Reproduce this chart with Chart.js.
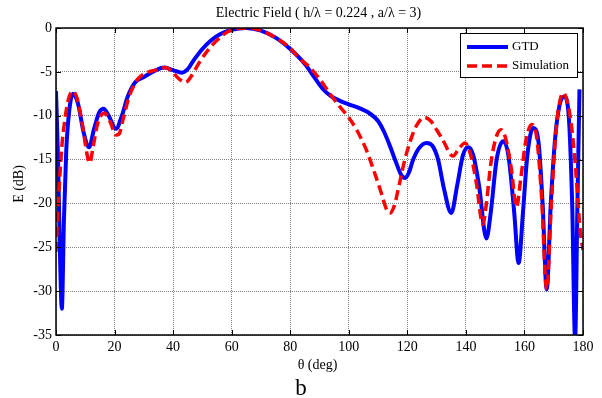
<!DOCTYPE html>
<html>
<head>
<meta charset="utf-8">
<script src="https://cdn.jsdelivr.net/npm/chart.js@4.4.0/dist/chart.umd.min.js"></script>
<style>
  html, body { margin: 0; padding: 0; background: #fff; }
</style>
</head>
<body>
<canvas id="chart" width="602" height="398"></canvas>
<script>
// GTD curve (theta in deg, E in dB)
const gtdTheta = [0, 0.7, 1.3, 2.0, 2.7, 3.5, 4.5, 5.8, 7.5, 9.5, 11.3, 13, 14.8, 16.3, 18, 20.5, 22.5, 24.5, 27, 30,
  33, 37, 40, 43, 45, 47, 50, 53, 56, 60, 65, 70, 75, 80, 85, 88, 91, 94, 97, 100,
  104, 107, 110, 112, 114, 116, 118, 119.3, 120.5, 122, 124, 126.5, 128.5, 130.5, 132.5, 135, 137, 139, 140.8, 142.5,
  144.5, 147, 148.5, 150.5, 152.7, 154.5, 156.5, 158, 159.5, 161, 163, 164.8, 166.2, 167.6, 169, 170.5, 172, 173.5, 175, 176.3,
  177.3, 178.1, 178.8];
const gtdE = [-7.2, -15, -25, -32, -22, -14, -9.5, -7.5, -8.6, -12, -13.6, -11.5, -9.6, -9.2, -10, -11.5, -10, -7.8, -6.2, -5.6,
  -5.0, -4.5, -4.8, -5.1, -4.7, -3.7, -2.4, -1.4, -0.7, -0.2, 0, -0.3, -1.1, -2.4, -4.1, -5.5, -6.9, -7.8, -8.3, -8.7,
  -9.2, -9.7, -10.6, -11.8, -13.4, -15.2, -16.8, -17.1, -16.5, -15, -13.7, -13.1, -13.4, -15, -18.3, -21.1, -18, -14.5, -13.6, -14.5,
  -18, -24, -21, -15, -12.9, -14.5, -21, -26.8, -21, -14.5, -11.4, -13, -20, -29.8, -20, -12.5, -8.8, -7.8, -9.5, -20,
  -35.5, -20, -7];

// Simulation curve
const simTheta = [0, 0.6, 1.2, 2, 3, 4.2, 5.7, 7.2, 9, 10.5, 11.5, 12.7, 14.3, 16.6, 18.5, 20.5, 21.5, 23, 25, 28,
  31, 34, 37.5, 40, 42, 44.3, 46, 49, 52, 55, 60, 66, 70, 75, 80, 83, 86.7, 90, 94, 97,
  100, 103, 106, 108.5, 111, 112.8, 114, 115.5, 117.4, 119, 120.8, 123, 125.8, 128, 130, 132, 135.6, 137.5, 139.7, 141.5,
  143.5, 145.8, 147, 148.5, 150.3, 152, 153.5, 155.5, 157.3, 158.8, 160.5, 162.5, 164.2, 165.8, 167.6, 169.2, 170.7, 172, 173.2, 174.7,
  176.2, 177.7, 179, 180];
const simE = [-25.5, -21, -17.5, -13.5, -10.5, -8.2, -7.2, -8, -11, -14.2, -15.4, -13.5, -10.8, -9.7, -10.7, -12.2, -12.1, -10.3, -7.8, -5.8,
  -5.1, -4.8, -4.5, -5.1, -5.8, -6.2, -5.6, -3.9, -2.5, -1.4, -0.2, 0, -0.3, -1.1, -2.3, -3.4, -4.5, -5.8, -7.7, -9,
  -10.2, -11.8, -13.9, -16.2, -18.7, -20.6, -21.1, -20.3, -17.6, -15.2, -13.1, -11.2, -10.2, -10.6, -11.6, -12.7, -14.6, -13.8, -13.1, -14.3,
  -17.5, -22.4, -20, -15.5, -12.5, -11.6, -12.5, -16, -20.4, -17, -12.8, -11, -12.5, -19, -29.8, -20, -12, -8.5, -7.4, -8.5,
  -11.5, -17, -23, -25.3];

const xTicks = [0, 20, 40, 60, 80, 100, 120, 140, 160, 180];
const yTicks = [0, -5, -10, -15, -20, -25, -30, -35];

const seriesNames = ['GTD', 'Simulation'];
const titleText = 'Electric Field ( h/\u03bb = 0.224 , a/\u03bb = 3)';
const xLabel = '\u03b8 (deg)';
const yLabel = 'E (dB)';
const panelLabel = 'b';

const serif = "'Liberation Serif', 'Times New Roman', serif";
Chart.defaults.font.family = serif;
Chart.defaults.font.size = 14;
Chart.defaults.color = '#000';

// frame, inward ticks, legend and the loose texts
const paperFrame = {
  id: 'paperFrame',
  afterDraw(chart) {
    const ctx = chart.ctx;
    const a = chart.chartArea;
    const xs = chart.scales.x, ys = chart.scales.y;
    ctx.save();

    // box
    ctx.strokeStyle = '#000';
    ctx.lineWidth = 1.5;
    ctx.strokeRect(a.left, a.top, a.right - a.left, a.bottom - a.top);

    // inward ticks
    ctx.lineWidth = 1;
    ctx.beginPath();
    xTicks.forEach(v => {
      const px = Math.round(xs.getPixelForValue(v)) + 0.5;
      ctx.moveTo(px, a.bottom); ctx.lineTo(px, a.bottom - 5);
      ctx.moveTo(px, a.top); ctx.lineTo(px, a.top + 5);
    });
    yTicks.forEach(v => {
      const py = Math.round(ys.getPixelForValue(v)) + 0.5;
      ctx.moveTo(a.left, py); ctx.lineTo(a.left + 5, py);
      ctx.moveTo(a.right, py); ctx.lineTo(a.right - 5, py);
    });
    ctx.stroke();

    // legend
    const lx = 460, ly = 33, lw = 117, lh = 44;
    ctx.fillStyle = '#fff';
    ctx.fillRect(lx, ly, lw, lh);
    ctx.strokeStyle = '#000';
    ctx.lineWidth = 1;
    ctx.strokeRect(lx + 0.5, ly + 0.5, lw, lh);
    chart.data.datasets.forEach((ds, i) => {
      const y = ly + 14 + i * 19;
      ctx.strokeStyle = ds.borderColor;
      ctx.lineWidth = ds.borderWidth;
      ctx.setLineDash(ds.borderDash || []);
      ctx.beginPath();
      ctx.moveTo(lx + 7, y); ctx.lineTo(lx + 48, y);
      ctx.stroke();
      ctx.setLineDash([]);
      ctx.fillStyle = '#000';
      ctx.font = '13px ' + serif;
      ctx.textAlign = 'left';
      ctx.textBaseline = 'middle';
      ctx.fillText(ds.label, lx + 52, y);
    });

    // title and axis labels
    const cx = (a.left + a.right) / 2;
    ctx.fillStyle = '#000';
    ctx.textAlign = 'center';
    ctx.textBaseline = 'middle';
    ctx.font = '14px ' + serif;
    ctx.fillText(titleText, cx - 1, 13);
    ctx.fillText(xLabel, cx - 2, 365);
    ctx.save();
    ctx.translate(19, 184);
    ctx.rotate(-Math.PI / 2);
    ctx.fillText(yLabel, 0, 0);
    ctx.restore();
    ctx.font = '23px ' + serif;
    ctx.fillText(panelLabel, 301, 389);
    ctx.restore();
  }
};

new Chart(document.getElementById('chart'), {
  type: 'line',
  data: {
    datasets: [
      {
        label: seriesNames[0],
        data: gtdTheta.map((t, i) => ({ x: t, y: gtdE[i] })),
        borderColor: '#0000ff',
        borderWidth: 4,
        pointRadius: 0,
        cubicInterpolationMode: 'monotone',
        fill: false,
        order: 2
      },
      {
        label: seriesNames[1],
        data: simTheta.map((t, i) => ({ x: t, y: simE[i] })),
        borderColor: '#ff0000',
        borderWidth: 3.5,
        borderDash: [10, 5],
        pointRadius: 0,
        cubicInterpolationMode: 'monotone',
        fill: false,
        order: 1
      }
    ]
  },
  options: {
    responsive: false,
    animation: false,
    devicePixelRatio: 1,
    layout: { padding: { top: 28, right: 19, left: 0, bottom: 0 } },
    plugins: {
      legend: { display: false },
      tooltip: { enabled: false },
      title: { display: false }
    },
    scales: {
      x: {
        type: 'linear',
        min: 0,
        max: 180,
        afterBuildTicks: s => { s.ticks = xTicks.map(v => ({ value: v })); },
        afterFit: s => { s.height = 63; },
        grid: { color: '#808080', lineWidth: 1, drawTicks: false },
        border: { display: false, dash: [1, 1] },
        ticks: { padding: 4, maxRotation: 0, autoSkip: false }
      },
      y: {
        type: 'linear',
        min: -35,
        max: 0,
        afterBuildTicks: s => { s.ticks = yTicks.map(v => ({ value: v })); },
        afterFit: s => { s.width = 56; },
        grid: { color: '#808080', lineWidth: 1, drawTicks: false },
        border: { display: false, dash: [1, 1] },
        ticks: { padding: 4, autoSkip: false }
      }
    }
  },
  plugins: [paperFrame]
});
</script>
</body>
</html>
